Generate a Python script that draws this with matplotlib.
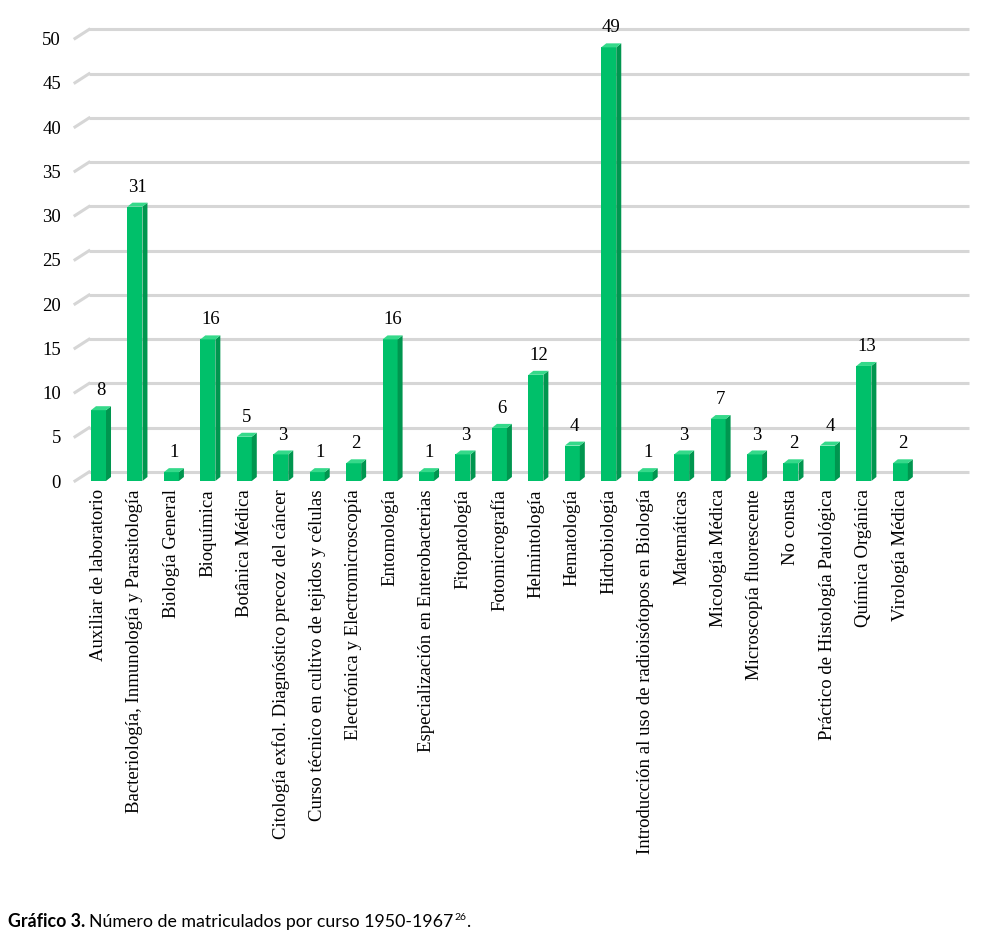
import matplotlib
matplotlib.use('Agg')
import matplotlib.pyplot as plt
from matplotlib.patches import Polygon
from matplotlib.transforms import offset_copy

cursos = ['Auxiliar de laboratorio',
          'Bacteriología, Inmunología y Parasitología',
          'Biología General',
          'Bioquímica',
          'Botânica Médica',
          'Citología exfol. Diagnóstico precoz del cáncer',
          'Curso técnico en cultivo de tejidos y células',
          'Electrónica y Electromicroscopía',
          'Entomología',
          'Especialización en Enterobacterias',
          'Fitopatología',
          'Fotomicrografía',
          'Helmintología',
          'Hematología',
          'Hidrobiología',
          'Introducción al uso de radioisótopos en Biología',
          'Matemáticas',
          'Micología Médica',
          'Microscopía fluorescente',
          'No consta',
          'Práctico de Histología Patológica',
          'Química Orgánica',
          'Virología Médica']
matriculados = [8, 31, 1, 16, 5, 3, 1, 2, 16, 1, 3, 6, 12, 4, 49, 1, 3, 7, 3, 2, 4, 13, 2]
y_ticks = [0, 5, 10, 15, 20, 25, 30, 35, 40, 45, 50]

serif = 'Liberation Serif'
c_front = '#00c06a'
c_side = '#00964f'
c_top = '#35d98a'

W, H = 992, 938
fig = plt.figure(figsize=(W / 100, H / 100), dpi=100)
ax = fig.add_axes([75 / W, 457 / H, 880 / W, 442.5 / H])
xlo, xhi = -0.645, 23.50
ax.set_xlim(xlo, xhi)
ax.set_ylim(0, 50)
for s in ax.spines.values():
    s.set_visible(False)

# pixel -> data scale for the 3d depth
px_x = (xhi - xlo) / 880
px_y = 50 / 442.5
dx, dy = 5 * px_x, 4 * px_y
w = 15 * px_x

# back wall grid lines + floor slant
back = offset_copy(ax.transData, fig=fig, x=14, y=9, units='dots')
for v in y_ticks:
    ax.plot([xlo, xhi], [v, v], color='#d6d6d6', lw=2.2, transform=back,
            zorder=1, solid_capstyle='butt', clip_on=False)
    ax.plot([xlo, xlo + 14 * px_x], [v, v + 9 * px_y], color='#d6d6d6', lw=2.2,
            zorder=1, clip_on=False)

xs = list(range(len(cursos)))
ax.bar(xs, matriculados, width=w, color=c_front, zorder=3, linewidth=0)
for x, v in zip(xs, matriculados):
    r = x + w / 2
    l = x - w / 2
    side = Polygon([(r, 0), (r + dx, dy), (r + dx, v + dy), (r, v)],
                   closed=True, facecolor=c_side, edgecolor='none', zorder=3)
    top = Polygon([(l, v), (l + dx, v + dy), (r + dx, v + dy), (r, v)],
                  closed=True, facecolor=c_top, edgecolor='none', zorder=3)
    ax.add_patch(side)
    ax.add_patch(top)
    ax.annotate(str(v), (x + dx / 2, v + dy), xytext=(0, 5), textcoords='offset points',
                ha='center', va='bottom', fontsize=13.5, family=serif, clip_on=False)

ax.set_xticks(xs)
ax.set_xticklabels(cursos, rotation=90, fontsize=13.5, family=serif)
ax.set_yticks(y_ticks)
ax.set_yticklabels([str(t) for t in y_ticks], fontsize=13.5, family=serif)
ax.set_xlim(xlo, xhi)
ax.tick_params(axis='both', length=0)
ax.tick_params(axis='x', pad=6)
ax.tick_params(axis='y', pad=10)

# caption
fig.canvas.draw()
r = fig.canvas.get_renderer()
cap_y = 1 - 927 / H
t1 = fig.text(8 / W, cap_y, 'Gráfico 3.', family='Lato', fontweight='bold',
              fontsize=12.8, va='baseline')
bb = t1.get_window_extent(r)
t2 = fig.text((bb.x1 + 4) / W, cap_y, 'Número de matriculados por curso 1950-1967',
              family='Lato', fontsize=12.8, va='baseline')
bb = t2.get_window_extent(r)
t3 = fig.text((bb.x1 + 1) / W, cap_y + 7 / H, '26', family='Lato', fontsize=7.5,
              va='baseline')
bb = t3.get_window_extent(r)
fig.text((bb.x1 - 1) / W, cap_y, '.', family='Lato', fontsize=12.8, va='baseline')

fig.savefig('out.png', dpi=100)
